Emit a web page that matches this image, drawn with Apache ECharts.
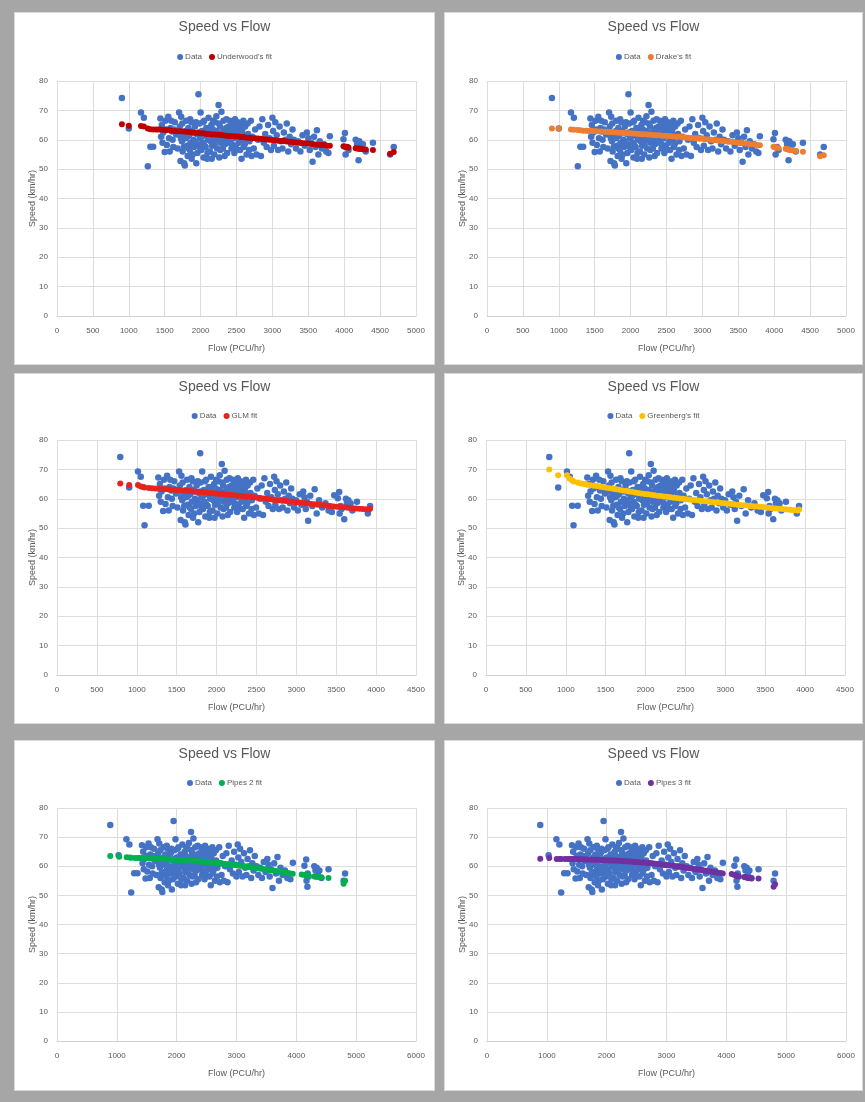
<!DOCTYPE html>
<html>
<head>
<meta charset="utf-8">
<script src="https://cdn.jsdelivr.net/npm/echarts@6/dist/echarts.min.js"></script>
<style>
html,body{margin:0;padding:0;}
body{width:865px;height:1102px;background:#A6A6A6;position:relative;overflow:hidden;}
.panel{position:absolute;background:#fff;box-sizing:border-box;border:1px solid #D9D9D9;}
</style>
</head>
<body>
<div id="p1" class="panel" style="left:14px;top:12px;width:421px;height:353px;"></div>
<div id="p2" class="panel" style="left:444px;top:12px;width:419px;height:353px;"></div>
<div id="p3" class="panel" style="left:14px;top:373px;width:421px;height:351px;"></div>
<div id="p4" class="panel" style="left:444px;top:373px;width:419px;height:351px;"></div>
<div id="p5" class="panel" style="left:14px;top:740px;width:421px;height:351px;"></div>
<div id="p6" class="panel" style="left:444px;top:740px;width:419px;height:351px;"></div>
<script>
// ---- Observed speeds (km/hr), shared by all six panels ----
const speedObs = [
  74.2,63.8,69.3,67.5,51.0,57.6,57.6,
  67.2,61.0,65.0,59.0,62.5,55.8,66.5,63.5,58.2,67.8,60.5,56.0,64.0,66.5,62.8,60.0,57.5,63.5,66.0,61.8,
  57.0,62.5,69.3,64.5,52.8,60.5,67.8,59.5,65.5,56.0,62.0,57.5,52.0,51.2,60.5,63.0,66.5,58.0,61.0,54.5,64.0,57.0,61.5,
  56.5,67.0,59.0,66.0,53.5,63.0,55.0,62.5,60.0,57.5,59.5,64.5,66.0,52.0,62.0,55.5,58.5,75.5,
  62.5,65.5,60.5,57.0,69.3,56.5,61.0,63.0,59.0,66.0,54.0,66.5,58.0,61.5,57.5,62.0,64.0,53.5,55.5,60.0,67.5,64.0,62.5,56.0,60.5,59.5,65.0,53.5,58.0,63.5,66.5,61.0,55.0,58.5,66.0,60.0,63.0,68.0,57.0,60.0,62.5,71.8,
  65.5,54.0,64.5,56.5,59.0,69.5,62.5,61.5,57.0,60.0,66.5,63.0,54.5,58.5,60.5,64.0,67.0,55.5,59.0,62.0,64.5,61.5,59.5,66.5,63.5,61.0,57.0,58.5,65.0,63.0,66.0,60.5,55.5,61.5,67.0,58.0,56.5,64.0,62.0,63.0,66.0,59.0,65.0,61.0,56.5,60.0,65.0,53.5,62.5,63.5,60.0,66.5,57.5,58.5,64.5,61.5,55.0,65.5,62.0,56.5,59.5,
  66.5,54.5,61.0,57.0,63.5,55.0,60.0,64.5,54.5,67.0,59.0,62.0,57.5,65.0,60.5,56.5,67.5,63.0,58.0,66.0,61.5,56.5,64.5,59.5,57.0,62.5,60.0,65.5,56.0,61.0,58.5,63.5,60.0,57.0,59.5,56.0,61.5,58.0,62.5,60.5,56.5,59.0,52.5,61.0,57.5,63.2,55.0,59.5,57.0,58.5,56.0,55.5,61.2,60.2,62.3,55.0,57.5,56.5,60.0,58.5,53.0,59.5,57.0,58.5,56.0,59.0,55.0,57.5
];
// ---- Flow of each observation (PCU/hr) as plotted in panels 1-2 ----
const flowA = [
  904,1000,1170,1210,1265,1300,1340,
  1440,1450,1460,1470,1480,1500,1510,1520,1530,1550,1560,1570,1580,1590,1600,1610,1620,1630,1640,1660,
  1680,1690,1700,1710,1720,1725,1730,1740,1745,1750,1760,1765,1770,1780,1790,1795,1800,1810,1815,1820,1830,1835,1840,
  1850,1855,1860,1870,1875,1880,1890,1895,1900,1910,1915,1920,1935,1940,1950,1955,1960,1970,
  1975,1980,1990,1995,2000,2010,2015,2020,2030,2035,2040,2050,2055,2060,2070,2075,2080,2090,2095,2100,2110,2115,2120,2130,2135,2140,2150,2155,2160,2170,2175,2180,2190,2195,2200,2210,2215,2220,2230,2235,2240,2250,
  2255,2260,2270,2275,2280,2290,2295,2300,2310,2315,2320,2330,2335,2340,2350,2355,2360,2370,2375,2380,2390,2395,2400,2410,2415,2420,2430,2435,2440,2450,2455,2460,2470,2475,2480,2490,2495,2500,2510,2515,2520,2530,2535,2540,2550,2555,2560,2570,2575,2580,2590,2595,2600,2615,2620,2635,2640,2655,2660,2675,2680,
  2700,2710,2720,2740,2760,2780,2800,2820,2840,2860,2880,2900,2920,2940,2960,2980,3000,3010,3020,3040,3060,3080,3100,3120,3140,3160,3180,3200,3220,3240,3260,3280,3300,3330,3360,3390,3420,3450,3480,3500,3520,3540,3560,3580,3600,3620,3640,3660,3690,3720,3750,3780,3800,3990,4010,4020,4040,4060,4160,4180,4200,4210,4230,4260,4300,4400,4640,4690
];
// ---- Flow of each observation as plotted in panels 3-4 ----
const flowB = [
  793,905,1015,1050,1097,1080,1150,
  1270,1280,1290,1300,1310,1330,1340,1350,1360,1380,1390,1400,1410,1420,1430,1440,1450,1460,1470,1490,
  1510,1520,1530,1540,1550,1555,1560,1570,1575,1580,1590,1595,1600,1610,1620,1625,1630,1640,1645,1650,1660,1665,1670,
  1680,1685,1690,1700,1705,1710,1720,1725,1730,1740,1745,1750,1765,1770,1780,1785,1790,1795,
  1795,1800,1810,1815,1820,1830,1835,1840,1850,1855,1860,1870,1875,1880,1890,1895,1900,1910,1915,1920,1930,1935,1940,1950,1955,1960,1970,1975,1980,1990,1995,2000,2010,2015,2020,2030,2035,2040,2050,2055,2060,2066,
  2070,2075,2084,2088,2092,2101,2105,2110,2118,2123,2127,2136,2140,2145,2154,2158,2162,2171,2175,2180,2188,2193,2197,2206,2210,2215,2223,2228,2232,2241,2245,2250,2258,2263,2267,2276,2280,2285,2293,2298,2302,2311,2315,2320,2328,2333,2337,2346,2350,2355,2363,2368,2372,2385,2390,2403,2407,2420,2425,2438,2442,
  2460,2468,2477,2495,2512,2530,2547,2565,2582,2600,2617,2635,2652,2670,2687,2705,2722,2730,2737,2752,2768,2783,2798,2813,2829,2844,2859,2874,2889,2905,2920,2935,2950,2973,2996,3019,3042,3064,3087,3102,3118,3133,3148,3175,3200,3230,3255,3285,3325,3365,3405,3445,3475,3520,3537,3543,3554,3566,3622,3634,3600,3651,3662,3680,3702,3760,3896,3924
];
// ---- Flow of each observation as plotted in panels 5-6 ----
const flowC = [
  890,1030,1160,1210,1240,1290,1345,
  1420,1430,1440,1450,1460,1480,1490,1500,1510,1530,1540,1550,1560,1570,1580,1590,1600,1610,1620,1640,
  1660,1670,1680,1690,1700,1705,1710,1720,1725,1730,1740,1745,1750,1760,1770,1775,1780,1790,1795,1800,1810,1815,1820,
  1830,1835,1840,1850,1855,1860,1870,1875,1880,1890,1895,1900,1915,1920,1930,1935,1940,1948,
  1955,1960,1970,1975,1980,1990,1995,2000,2010,2015,2020,2030,2035,2040,2050,2055,2065,2075,2080,2085,2095,2100,2105,2115,2120,2125,2135,2140,2145,2155,2160,2165,2175,2180,2185,2195,2200,2205,2215,2220,2230,2240,
  2245,2250,2260,2265,2270,2280,2285,2290,2300,2305,2310,2320,2325,2330,2340,2345,2350,2360,2365,2370,2380,2385,2395,2405,2410,2415,2425,2430,2435,2445,2450,2455,2465,2470,2475,2485,2490,2495,2505,2510,2515,2525,2530,2535,2550,2555,2560,2570,2575,2580,2590,2595,2600,2615,2620,2635,2640,2655,2660,2675,2680,
  2710,2720,2730,2750,2770,2790,2810,2830,2850,2870,2890,2920,2940,2960,2980,3000,3020,3030,3040,3060,3080,3100,3125,3145,3165,3185,3205,3225,3245,3265,3285,3305,3335,3365,3395,3425,3455,3485,3515,3535,3555,3575,3602,3630,3660,3685,3710,3735,3770,3810,3850,3900,3942,4135,4165,4170,4190,4205,4300,4320,4185,4340,4360,4385,4420,4538,4790,4814
];

// ---- Fitted speeds ----
const fitFlowA = [
  904,1000,1170,1210,1265,1300,1340,1380,1410,
  1440,1480,1520,1560,1600,1640,1680,1720,1760,1800,1840,1880,1920,1960,2000,2040,2080,2120,2160,2200,
  2240,2280,2320,2360,2400,2440,2480,2520,2560,2600,2640,2680,2720,2760,2800,2840,2880,2920,2960,3000,
  3040,3080,3120,3160,3200,3240,3280,3320,3360,3400,3440,3480,3520,3560,3600,3640,3680,3720,3760,3800,
  3990,4010,4020,4040,4060,4160,4180,4200,4210,4230,4260,4300,4400,4640,4690
];
const underwoodFit = [
  65.3,64.8,64.7,64.5,63.8,63.6,63.5,63.5,63.5,
  63.5,63.4,63.3,63.3,63.1,63.0,62.9,62.9,62.8,62.7,62.6,62.5,62.4,62.4,62.2,62.2,62.0,62.0,61.8,61.8,
  61.7,61.6,61.5,61.4,61.3,61.2,61.1,61.1,60.9,60.9,60.7,60.7,60.5,60.5,60.4,60.3,60.2,60.1,60.0,59.9,
  59.8,59.7,59.6,59.6,59.4,59.3,59.2,59.1,59.0,58.9,58.8,58.8,58.6,58.5,58.4,58.3,58.2,58.2,58.0,58.0,
  57.8,57.6,57.6,57.5,57.4,57.1,57.0,57.0,56.9,56.9,56.8,56.7,56.5,55.2,55.8
];
const drakeFit = [
  63.8,63.8,63.5,63.4,63.3,63.2,63.1,63.05,63.0,
  63.0,62.95,62.9,62.85,62.8,62.7,62.65,62.6,62.55,62.5,62.4,62.35,62.3,62.25,62.2,62.1,62.05,62.0,61.9,61.85,
  61.8,61.7,61.6,61.55,61.5,61.4,61.35,61.3,61.2,61.1,61.05,61.0,60.9,60.8,60.7,60.6,60.55,60.5,60.4,60.3,
  60.2,60.1,60.0,59.9,59.8,59.7,59.6,59.5,59.4,59.3,59.2,59.05,58.95,58.8,58.7,58.6,58.45,58.35,58.2,58.1,
  57.6,57.5,57.4,57.3,57.2,56.9,56.8,56.7,56.6,56.5,56.4,56.2,55.9,54.4,54.7
];
const fitFlowB = [
  793,905,1015,1050,1080,1097,1150,1190,1230,
  1270,1310,1350,1390,1430,1470,1510,1550,1590,1630,1670,1710,1750,1790,1830,1870,1910,1950,1990,
  2030,2070,2110,2150,2190,2230,2270,2310,2350,2390,2430,2470,2510,2550,2590,2630,2670,2710,2750,2790,2830,2870,2910,2950,2990,
  3030,3070,3110,3150,3190,3230,3270,3310,3350,3390,3430,3470,3510,3550,3590,3630,3670,3710,3750,3790,3830,3870,3910,
  3924
];
const glmFit = [
  65.2,64.7,64.7,64.2,64.0,63.8,63.7,63.6,63.5,
  63.4,63.3,63.25,63.2,63.1,63.05,63.0,62.9,62.8,62.7,62.6,62.5,62.4,62.3,62.2,62.1,62.0,61.9,61.8,
  61.7,61.6,61.5,61.35,61.25,61.15,61.0,60.9,60.8,60.7,60.6,60.5,60.35,60.25,60.1,60.0,59.85,59.7,59.6,59.45,59.35,59.2,59.1,58.95,58.8,
  58.7,58.6,58.45,58.35,58.2,58.1,58.0,57.85,57.75,57.6,57.5,57.4,57.3,57.2,57.1,57.0,56.9,56.8,56.7,56.6,56.5,56.4,56.3,
  56.6
];
const greenbergFit = [
  70.0,68.0,68.0,66.8,66.3,65.9,65.5,65.2,65.0,
  64.8,64.6,64.45,64.3,64.1,63.95,63.75,63.6,63.4,63.2,63.05,62.85,62.7,62.5,62.35,62.15,62.0,61.8,61.65,
  61.5,61.35,61.2,61.05,60.9,60.8,60.65,60.5,60.35,60.25,60.1,60.0,59.85,59.75,59.6,59.5,59.4,59.25,59.15,59.05,58.9,58.8,58.7,58.55,58.45,
  58.35,58.2,58.1,58.0,57.9,57.8,57.7,57.55,57.45,57.35,57.25,57.15,57.0,56.9,56.8,56.7,56.6,56.5,56.4,56.3,56.2,56.1,56.0,
  56.3
];
const fitFlowC = [
  890,1040,1165,1215,1240,1300,1345,1380,
  1420,1460,1500,1540,1580,1620,1660,1700,1740,1780,1820,1860,1900,1940,1980,2020,2060,2100,2140,2180,
  2220,2260,2300,2340,2380,2420,2460,2500,2540,2580,2620,2660,2700,2740,2780,2820,2860,2900,2940,2980,
  3020,3060,3100,3140,3180,3220,3260,3300,3340,3380,3420,3460,3500,3540,3580,3620,3660,3700,3740,3780,
  3820,3860,3900,3940,
  4090,4135,4165,4170,4190,4205,4300,4320,4340,4360,4385,4420,4538,4790,4814
];
const pipes2Fit = [
  63.5,63.3,63.1,63.0,62.9,62.8,62.8,62.8,
  62.9,62.85,62.8,62.75,62.7,62.65,62.6,62.55,62.5,62.45,62.4,62.35,62.3,62.25,62.2,62.15,62.1,62.05,62.0,61.95,
  61.9,61.85,61.8,61.7,61.65,61.6,61.5,61.45,61.4,61.3,61.25,61.15,61.1,61.0,60.9,60.8,60.7,60.6,60.5,60.4,
  60.3,60.2,60.1,60.0,59.85,59.75,59.6,59.5,59.4,59.25,59.1,59.0,58.9,58.75,58.6,58.5,58.35,58.2,58.1,57.95,
  57.8,57.7,57.55,57.4,
  57.2,57.0,56.9,56.9,56.8,56.8,56.5,56.5,56.4,56.4,56.3,56.2,56.0,54.0,55.0
];
const pipes3Fit = [
  62.6,62.8,62.5,62.5,62.5,62.5,62.5,62.45,
  62.45,62.45,62.4,62.4,62.4,62.35,62.35,62.3,62.3,62.25,62.25,62.2,62.15,62.15,62.1,62.05,62.0,62.0,61.95,61.9,
  61.85,61.8,61.75,61.7,61.65,61.6,61.5,61.45,61.4,61.3,61.25,61.2,61.1,61.0,60.95,60.85,60.75,60.65,60.55,60.45,
  60.35,60.25,60.15,60.05,59.9,59.8,59.7,59.55,59.45,59.3,59.2,59.05,58.95,58.8,58.7,58.55,58.45,58.3,58.2,58.05,
  57.95,57.8,57.7,57.55,
  57.3,57.0,56.8,56.8,56.6,56.5,56.3,56.2,56.1,56.0,56.0,55.8,55.8,53.0,53.8
];

// ---- Text / axes ----
const chartTitle = 'Speed vs Flow';
const xName = 'Flow (PCU/hr)';
const yName = 'Speed (km/hr)';
const dataName = 'Data';

const FONT = 'Arial';
const TXT = '#595959';

const panels = [
  {el:'p1', fitName:"Underwood's fit", color:'#C00000', flow:flowA, fitFlow:fitFlowA, fit:underwoodFit, xMax:5000, xInt:500,
   grid:{left:42,right:18,top:68,bottom:48}, titleTop:7, legendTop:40},
  {el:'p2', fitName:"Drake's fit", color:'#ED7D31', flow:flowA, fitFlow:fitFlowA, fit:drakeFit, xMax:5000, xInt:500,
   grid:{left:42,right:16,top:68,bottom:48}, titleTop:7, legendTop:40},
  {el:'p3', fitName:'GLM fit', color:'#E8231E', flow:flowB, fitFlow:fitFlowB, fit:glmFit, xMax:4500, xInt:500,
   grid:{left:42,right:18,top:66,bottom:48}, titleTop:6, legendTop:38},
  {el:'p4', fitName:"Greenberg's fit", color:'#FFC000', flow:flowB, fitFlow:fitFlowB, fit:greenbergFit, xMax:4500, xInt:500,
   grid:{left:41,right:17,top:66,bottom:48}, titleTop:6, legendTop:38},
  {el:'p5', fitName:'Pipes 2 fit', color:'#00B050', flow:flowC, fitFlow:fitFlowC, fit:pipes2Fit, xMax:6000, xInt:1000,
   grid:{left:42,right:18,top:67,bottom:49}, titleTop:6, legendTop:38},
  {el:'p6', fitName:'Pipes 3 fit', color:'#7030A0', flow:flowC, fitFlow:fitFlowC, fit:pipes3Fit, xMax:6000, xInt:1000,
   grid:{left:42,right:16,top:67,bottom:49}, titleTop:6, legendTop:38}
];

panels.forEach(p => {
  const chart = echarts.init(document.getElementById(p.el), null, {renderer:'canvas'});
  const dataPts = p.flow.map((f, i) => [f, speedObs[i]]);
  const fitPts = p.fitFlow.map((f, i) => [f, p.fit[i]]);
  chart.setOption({
    animation:false,
    textStyle:{fontFamily:FONT},
    title:{text:chartTitle, left:'center', top:p.titleTop, padding:0,
      textStyle:{fontFamily:FONT, fontSize:14, fontWeight:'normal', color:TXT}},
    legend:{top:p.legendTop, left:'center', padding:0, itemWidth:6, itemHeight:6, itemGap:7,
      icon:'circle', data:[dataName, p.fitName],
      textStyle:{fontFamily:FONT, fontSize:8, color:TXT, padding:[0,0,0,-3]}},
    grid:Object.assign({outerBoundsMode:'none', containLabel:false}, p.grid),
    xAxis:{type:'value', min:0, max:p.xMax, interval:p.xInt,
      name:xName, nameLocation:'middle', nameGap:28, nameMoveOverlap:false,
      nameTextStyle:{fontFamily:FONT, fontSize:9, color:TXT},
      axisLine:{show:true, lineStyle:{color:'#D0D0D0', width:1}},
      axisTick:{show:false},
      axisLabel:{fontFamily:FONT, fontSize:8, color:TXT, margin:11, formatter:v => String(v)},
      splitLine:{show:true, lineStyle:{color:'#DDDDDD', width:1}}},
    yAxis:{type:'value', min:0, max:80, interval:10,
      name:yName, nameLocation:'middle', nameGap:20, nameRotate:90, nameMoveOverlap:false,
      nameTextStyle:{fontFamily:FONT, fontSize:9, color:TXT},
      axisLine:{show:false},
      axisTick:{show:false},
      axisLabel:{fontFamily:FONT, fontSize:8, color:TXT, margin:9, formatter:v => String(v)},
      splitLine:{show:true, lineStyle:{color:'#DDDDDD', width:1}}},
    series:[
      {name:dataName, type:'scatter', data:dataPts, symbolSize:6.5,
       itemStyle:{color:'#4472C4', opacity:1}},
      {name:p.fitName, type:'scatter', data:fitPts, symbolSize:6,
       itemStyle:{color:p.color, opacity:1}}
    ]
  });
});
</script>
</body>
</html>
